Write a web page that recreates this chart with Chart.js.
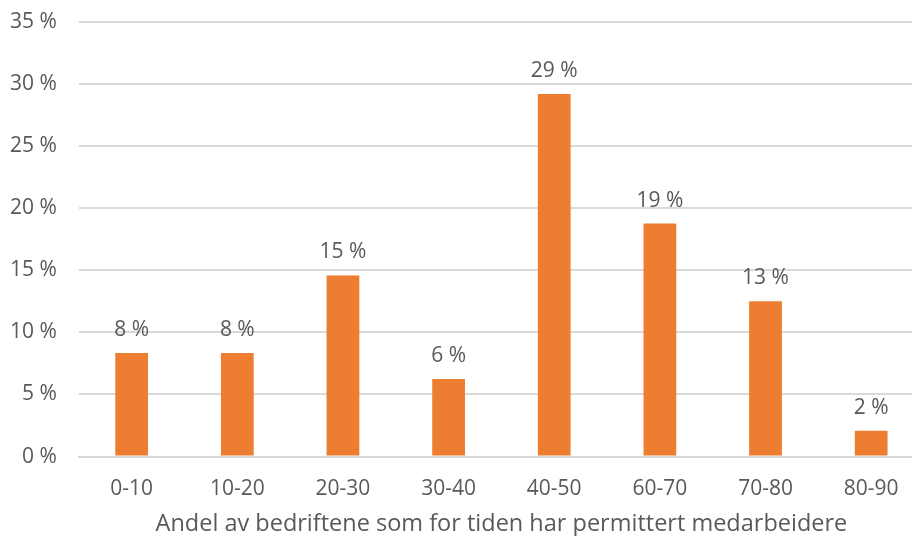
<!DOCTYPE html>
<html>
<head>
<meta charset="utf-8">
<script src="https://cdn.jsdelivr.net/npm/chart.js@4/dist/chart.umd.min.js"></script>
<style>
  html, body { margin: 0; padding: 0; background: #fff; overflow: hidden; }
  #wrap { width: 924px; height: 549px; margin-top: -13px; }
</style>
</head>
<body>
<div id="wrap"><canvas id="chart"></canvas></div>
<script>
// andel bedrifter per gruppe (prosent)
const categories = ['0-10', '10-20', '20-30', '30-40', '40-50', '60-70', '70-80', '80-90'];
const shares = [8.33, 8.33, 14.58, 6.25, 29.17, 18.75, 12.5, 2.08];
const yTicks = [0, 5, 10, 15, 20, 25, 30, 35];
const xTitle = 'Andel av bedriftene som for tiden har permittert medarbeidere';

const fontFamily = "'Open Sans', 'DejaVu Sans', sans-serif";
const textColor = '#595959';

// enkel plugin for verdietiketter over stolpene
const barLabels = {
  id: 'barLabels',
  afterDatasetsDraw(chart) {
    const ctx = chart.ctx;
    const meta = chart.getDatasetMeta(0);
    ctx.save();
    ctx.font = '21px ' + fontFamily;
    ctx.fillStyle = textColor;
    ctx.textAlign = 'center';
    ctx.textBaseline = 'alphabetic';
    meta.data.forEach((bar, i) => {
      ctx.fillText(Math.round(shares[i]) + ' %', bar.x, bar.y - 17);
    });
    ctx.restore();
  }
};

new Chart(document.getElementById('chart'), {
  type: 'bar',
  data: {
    labels: categories,
    datasets: [{
      data: shares,
      backgroundColor: '#ED7D31',
      barPercentage: 0.31,
      categoryPercentage: 1
    }]
  },
  options: {
    responsive: true,
    maintainAspectRatio: false,
    animation: false,
    layout: { padding: { top: 0, left: -12, right: 0, bottom: -2 } },
    plugins: {
      legend: { display: false },
      tooltip: { enabled: false }
    },
    scales: {
      x: {
        grid: { display: false, drawTicks: false },
        border: { display: true, color: '#d9d9d9', width: 2 },
        ticks: { color: textColor, font: { family: fontFamily, size: 21 }, padding: 20 },
        title: {
          display: true,
          text: xTitle,
          color: textColor,
          font: { family: fontFamily, size: 23.5 },
          padding: { top: -12, bottom: 0 }
        }
      },
      y: {
        min: 0,
        max: 35,
        afterBuildTicks: (axis) => { axis.ticks = yTicks.map(v => ({ value: v })); },
        grid: { color: '#d9d9d9', lineWidth: 2, drawTicks: false },
        border: { display: false },
        ticks: {
          color: textColor,
          font: { family: fontFamily, size: 21 },
          padding: 22,
          callback: (v) => v + ' %'
        }
      }
    }
  },
  plugins: [barLabels]
});
</script>
</body>
</html>
